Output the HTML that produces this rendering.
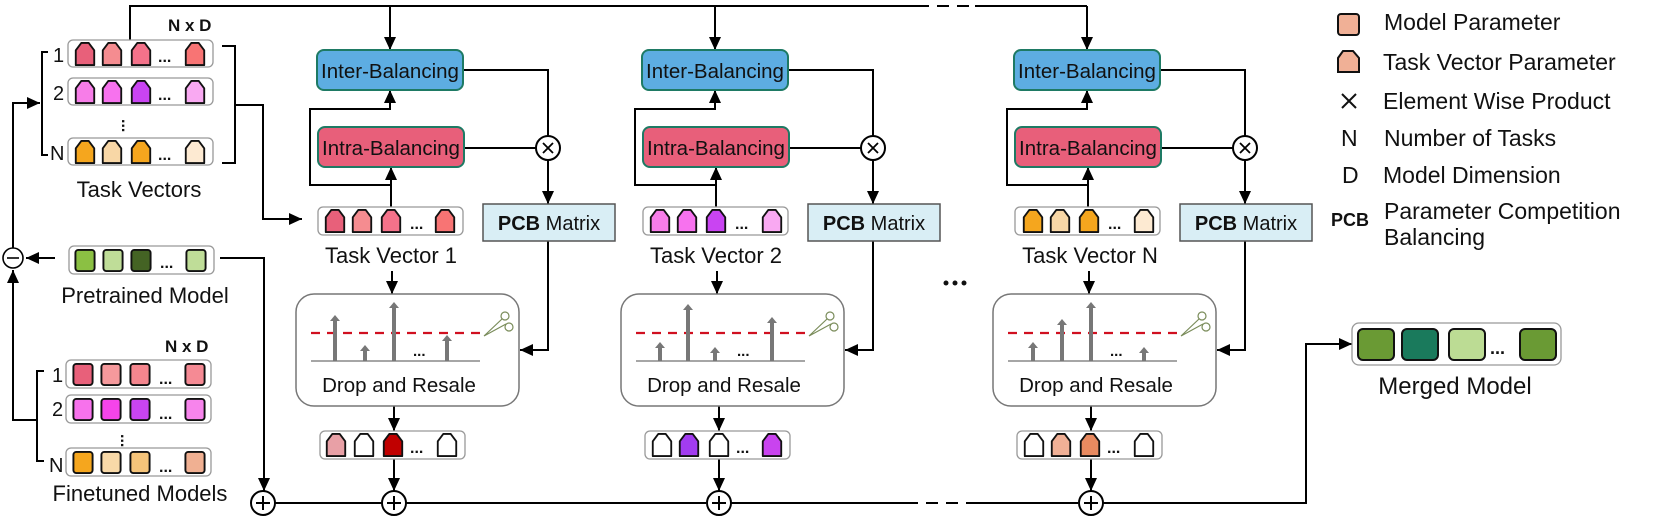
<!DOCTYPE html>
<html><head><meta charset="utf-8"><style>
html,body{margin:0;padding:0;background:#fff}
svg{display:block}
text{font-family:"Liberation Sans",sans-serif;fill:#111}
</style></head><body>
<svg width="1661" height="522" viewBox="0 0 1661 522" xmlns="http://www.w3.org/2000/svg">
<defs>
<marker id="a" markerUnits="userSpaceOnUse" markerWidth="14" markerHeight="12" refX="13" refY="6" orient="auto"><path d="M0,0 L13,6 L0,12 Z" fill="#000"/></marker>
<symbol id="tv" viewBox="0 0 22 26" overflow="visible"><path d="M1,25 V9 L7,1 H15 L21,9 V25 Z" stroke="#111" stroke-width="2" stroke-linejoin="round"/></symbol>
<symbol id="sq" viewBox="0 0 22 24" overflow="visible"><rect x="1" y="1" width="20" height="22" rx="3" stroke="#111" stroke-width="2"/></symbol>
</defs>

<g stroke="#000" stroke-width="2" fill="none">
<polyline points="130,40 130,6 917,6"/>
<line x1="917" y1="6" x2="975" y2="6" stroke-dasharray="12,8"/>
<line x1="975" y1="6" x2="1087" y2="6"/>
<line x1="390" y1="6" x2="390" y2="50" marker-end="url(#a)"/>
<line x1="715" y1="6" x2="715" y2="50" marker-end="url(#a)"/>
<line x1="1087" y1="6" x2="1087" y2="50" marker-end="url(#a)"/>
<polyline points="48,52 42,52 42,155 48,155"/>
<polyline points="222,46 235,46 235,163 222,163"/>
<polyline points="235,105 263,105 263,219 302,219" marker-end="url(#a)"/>
<polyline points="13,248 13,103 40,103" marker-end="url(#a)"/>
<line x1="55" y1="258" x2="26" y2="258" marker-end="url(#a)"/>
<polyline points="44,371 37,371 37,461 44,461"/>
<polyline points="37,420 13,420 13,270" marker-end="url(#a)"/>
<polyline points="220,258 264,258 264,491" marker-end="url(#a)"/>
<line x1="275" y1="503" x2="382" y2="503"/>
<line x1="406" y1="503" x2="706" y2="503"/>
<line x1="730" y1="503" x2="906" y2="503"/>
<line x1="906" y1="503" x2="970" y2="503" stroke-dasharray="12,8"/>
<line x1="970" y1="503" x2="1078" y2="503"/>
<polyline points="1102,503 1306,503 1306,344 1352,344" marker-end="url(#a)"/>
</g>
<circle cx="13" cy="258" r="10" fill="#fff" stroke="#000" stroke-width="1.6"/>
<line x1="7" y1="258" x2="19" y2="258" stroke="#000" stroke-width="1.6"/>
<circle cx="263" cy="503" r="12" fill="#fff" stroke="#000" stroke-width="2"/>
<path d="M256,503 H270 M263,496 V510" stroke="#000" stroke-width="2"/>

<text x="168" y="31" font-size="17" font-weight="bold">N x D</text>
<text x="53" y="62" font-size="20">1</text>
<text x="53" y="100" font-size="20">2</text>
<text x="50" y="160" font-size="20">N</text>
<g>
<rect x="68" y="40" width="145" height="27" rx="5" fill="#fff" stroke="#999" stroke-width="1.3"/>
<use href="#tv" x="74" y="42" width="22" height="24" fill="#e8607a"/>
<use href="#tv" x="101" y="42" width="22" height="24" fill="#f58c90"/>
<use href="#tv" x="130" y="42" width="22" height="24" fill="#f4728a"/>
<text x="158" y="62" font-size="16" font-weight="bold">...</text>
<use href="#tv" x="184" y="42" width="22" height="24" fill="#f87474"/>
<rect x="68" y="78" width="145" height="27" rx="5" fill="#fff" stroke="#999" stroke-width="1.3"/>
<use href="#tv" x="74" y="80" width="22" height="24" fill="#f77de8"/>
<use href="#tv" x="101" y="80" width="22" height="24" fill="#f772ee"/>
<use href="#tv" x="130" y="80" width="22" height="24" fill="#c944f2"/>
<text x="158" y="100" font-size="16" font-weight="bold">...</text>
<use href="#tv" x="184" y="80" width="22" height="24" fill="#f9a9f2"/>
<text x="125" y="128" font-size="16" font-weight="bold" transform="rotate(90 128 122)">...</text>
<rect x="68" y="138" width="145" height="27" rx="5" fill="#fff" stroke="#999" stroke-width="1.3"/>
<use href="#tv" x="74" y="140" width="22" height="24" fill="#f5a61e"/>
<use href="#tv" x="101" y="140" width="22" height="24" fill="#f8d7a6"/>
<use href="#tv" x="130" y="140" width="22" height="24" fill="#f5a61e"/>
<text x="158" y="160" font-size="16" font-weight="bold">...</text>
<use href="#tv" x="184" y="140" width="22" height="24" fill="#fdead2"/>
</g>
<text x="139" y="197" font-size="22" text-anchor="middle">Task Vectors</text>

<rect x="69" y="246" width="145" height="28" rx="5" fill="#fff" stroke="#999" stroke-width="1.3"/>
<use href="#sq" x="74" y="249" width="22" height="23" fill="#8bc043"/>
<use href="#sq" x="102" y="249" width="22" height="23" fill="#bfdd98"/>
<use href="#sq" x="130" y="249" width="22" height="23" fill="#446324"/>
<text x="160" y="268" font-size="16" font-weight="bold">...</text>
<use href="#sq" x="185" y="249" width="22" height="23" fill="#bfdd98"/>
<text x="145" y="303" font-size="22" text-anchor="middle">Pretrained Model</text>

<text x="165" y="352" font-size="17" font-weight="bold">N x D</text>
<text x="52" y="382" font-size="20">1</text>
<text x="52" y="416" font-size="20">2</text>
<text x="49" y="472" font-size="20">N</text>
<rect x="66" y="360" width="145" height="28" rx="5" fill="#fff" stroke="#999" stroke-width="1.3"/>
<use href="#sq" x="72" y="363" width="22" height="23" fill="#e8607a"/>
<use href="#sq" x="100" y="363" width="22" height="23" fill="#f5999c"/>
<use href="#sq" x="129" y="363" width="22" height="23" fill="#f5868e"/>
<text x="159" y="384" font-size="16" font-weight="bold">...</text>
<use href="#sq" x="184" y="363" width="22" height="23" fill="#f58a94"/>
<rect x="66" y="395" width="145" height="28" rx="5" fill="#fff" stroke="#999" stroke-width="1.3"/>
<use href="#sq" x="72" y="398" width="22" height="23" fill="#f772ec"/>
<use href="#sq" x="100" y="398" width="22" height="23" fill="#f544ea"/>
<use href="#sq" x="129" y="398" width="22" height="23" fill="#c944f2"/>
<text x="159" y="419" font-size="16" font-weight="bold">...</text>
<use href="#sq" x="184" y="398" width="22" height="23" fill="#f784ec"/>
<text x="124" y="443" font-size="16" font-weight="bold" transform="rotate(90 127 437)">...</text>
<rect x="66" y="448" width="145" height="28" rx="5" fill="#fff" stroke="#999" stroke-width="1.3"/>
<use href="#sq" x="72" y="451" width="22" height="23" fill="#f5a61e"/>
<use href="#sq" x="100" y="451" width="22" height="23" fill="#f8d9a8"/>
<use href="#sq" x="129" y="451" width="22" height="23" fill="#f5c47a"/>
<text x="159" y="472" font-size="16" font-weight="bold">...</text>
<use href="#sq" x="184" y="451" width="22" height="23" fill="#f0b092"/>
<text x="140" y="501" font-size="22" text-anchor="middle">Finetuned Models</text>

<g id="col1">
<g stroke="#000" stroke-width="2" fill="none">
<line x1="391" y1="207" x2="391" y2="167" marker-end="url(#a)"/>
<polyline points="391,185 310,185 310,109 390,109 390,90" marker-end="url(#a)"/>
<polyline points="463,70 548,70 548,136"/>
<line x1="464" y1="148" x2="536" y2="148"/>
<line x1="548" y1="160" x2="548" y2="204" marker-end="url(#a)"/>
<polyline points="548,241 548,350 520,350" marker-end="url(#a)"/>
<line x1="392" y1="271" x2="392" y2="294" marker-end="url(#a)"/>
<line x1="394" y1="406" x2="394" y2="431" marker-end="url(#a)"/>
<line x1="394" y1="459" x2="394" y2="491" marker-end="url(#a)"/>
</g>
<rect x="317" y="50" width="146" height="40" rx="7" fill="#5dade2" stroke="#1e7a64" stroke-width="2"/>
<text x="390" y="78" font-size="20.5" text-anchor="middle">Inter-Balancing</text>
<rect x="318" y="127" width="146" height="40" rx="7" fill="#e85f7a" stroke="#1e7a64" stroke-width="2"/>
<text x="391" y="155" font-size="20.5" text-anchor="middle">Intra-Balancing</text>
<circle cx="548" cy="148" r="12" fill="#fff" stroke="#000" stroke-width="2"/>
<path d="M543,143 L553,153 M553,143 L543,153" stroke="#000" stroke-width="1.8"/>
<rect x="483" y="204" width="132" height="37" fill="#d9eef5" stroke="#555" stroke-width="1.5"/>
<text x="549" y="230" font-size="20" text-anchor="middle"><tspan font-weight="bold">PCB</tspan> Matrix</text>
<rect x="318" y="207" width="145" height="28" rx="5" fill="#fff" stroke="#999" stroke-width="1.3"/>
<rect x="296" y="294" width="223" height="112" rx="18" fill="#fff" stroke="#777" stroke-width="1.5"/>
<line x1="311" y1="361" x2="480" y2="361" stroke="#888" stroke-width="1.5"/>
<line x1="311" y1="333" x2="480" y2="333" stroke="#d01020" stroke-width="2.2" stroke-dasharray="9,7"/>
<g stroke="#7a8c5a" stroke-width="1.2" fill="none">
<circle cx="505" cy="316" r="4"/><circle cx="509" cy="327" r="4"/>
<path d="M502,319 L484,336 M506,324 L484,336"/>
</g>
<text x="399" y="392" font-size="20.5" text-anchor="middle">Drop and Resale</text>
<rect x="320" y="431" width="145" height="28" rx="5" fill="#fff" stroke="#999" stroke-width="1.3"/>
<circle cx="394" cy="503" r="12" fill="#fff" stroke="#000" stroke-width="2"/>
<path d="M387,503 H401 M394,496 V510" stroke="#000" stroke-width="2"/>
</g>
<use href="#col1" x="325" y="0"/>
<use href="#col1" x="697" y="0"/>

<text x="391" y="263" font-size="22" text-anchor="middle">Task Vector 1</text>
<text x="716" y="263" font-size="22" text-anchor="middle">Task Vector 2</text>
<text x="1090" y="263" font-size="22" text-anchor="middle">Task Vector N</text>

<g fill="#777">
<rect x="333" y="320" width="4" height="41"/><path d="M330,321 L335,315 L340,321Z"/>
<rect x="363" y="350" width="4" height="11"/><path d="M360,351 L365,345 L370,351Z"/>
<rect x="392" y="307" width="4" height="54"/><path d="M389,308 L394,302 L399,308Z"/>
<rect x="445" y="340" width="4" height="21"/><path d="M442,341 L447,335 L452,341Z"/>
<rect x="658" y="347" width="4" height="14"/><path d="M655,348 L660,342 L665,348Z"/>
<rect x="686" y="309" width="4" height="52"/><path d="M683,310 L688,304 L693,310Z"/>
<rect x="713" y="352" width="4" height="9"/><path d="M710,353 L715,347 L720,353Z"/>
<rect x="770" y="322" width="4" height="39"/><path d="M767,323 L772,317 L777,323Z"/>
<rect x="1031" y="347" width="4" height="14"/><path d="M1028,348 L1033,342 L1038,348Z"/>
<rect x="1060" y="324" width="4" height="37"/><path d="M1057,325 L1062,319 L1067,325Z"/>
<rect x="1089" y="307" width="4" height="54"/><path d="M1086,308 L1091,302 L1096,308Z"/>
<rect x="1142" y="352" width="4" height="9"/><path d="M1139,353 L1144,347 L1149,353Z"/>
</g>
<g font-size="15" font-weight="bold">
<text x="413" y="356">...</text><text x="737" y="356">...</text><text x="1110" y="356">...</text>
</g>

<g>
<use href="#tv" x="324" y="209" width="22" height="24" fill="#e8607a"/>
<use href="#tv" x="351" y="209" width="22" height="24" fill="#f58c90"/>
<use href="#tv" x="380" y="209" width="22" height="24" fill="#f4728a"/>
<text x="410" y="229" font-size="16" font-weight="bold">...</text>
<use href="#tv" x="434" y="209" width="22" height="24" fill="#f87474"/>
<use href="#tv" x="649" y="209" width="22" height="24" fill="#f77de8"/>
<use href="#tv" x="676" y="209" width="22" height="24" fill="#f772ee"/>
<use href="#tv" x="705" y="209" width="22" height="24" fill="#c944f2"/>
<text x="735" y="229" font-size="16" font-weight="bold">...</text>
<use href="#tv" x="761" y="209" width="22" height="24" fill="#f9a9f2"/>
<use href="#tv" x="1022" y="209" width="22" height="24" fill="#f5a61e"/>
<use href="#tv" x="1049" y="209" width="22" height="24" fill="#f8d7a6"/>
<use href="#tv" x="1078" y="209" width="22" height="24" fill="#f5a61e"/>
<text x="1108" y="229" font-size="16" font-weight="bold">...</text>
<use href="#tv" x="1133" y="209" width="22" height="24" fill="#fdead2"/>
<use href="#tv" x="325" y="433" width="22" height="24" fill="#e8a0a6"/>
<use href="#tv" x="353" y="433" width="22" height="24" fill="#fff"/>
<use href="#tv" x="382" y="433" width="22" height="24" fill="#c00000"/>
<text x="410" y="453" font-size="16" font-weight="bold">...</text>
<use href="#tv" x="436" y="433" width="22" height="24" fill="#fff"/>
<use href="#tv" x="651" y="433" width="22" height="24" fill="#fff"/>
<use href="#tv" x="678" y="433" width="22" height="24" fill="#a23cf0"/>
<use href="#tv" x="708" y="433" width="22" height="24" fill="#fff"/>
<text x="736" y="453" font-size="16" font-weight="bold">...</text>
<use href="#tv" x="761" y="433" width="22" height="24" fill="#c943ef"/>
<use href="#tv" x="1023" y="433" width="22" height="24" fill="#fff"/>
<use href="#tv" x="1050" y="433" width="22" height="24" fill="#f0b096"/>
<use href="#tv" x="1079" y="433" width="22" height="24" fill="#e88a60"/>
<text x="1107" y="453" font-size="16" font-weight="bold">...</text>
<use href="#tv" x="1133" y="433" width="22" height="24" fill="#fff"/>
</g>

<g fill="#111"><circle cx="946" cy="283" r="2.5"/><circle cx="955" cy="283" r="2.5"/><circle cx="964" cy="283" r="2.5"/></g>

<rect x="1352" y="323" width="209" height="42" rx="7" fill="#fff" stroke="#999" stroke-width="1.3"/>
<rect x="1358" y="329" width="36" height="31" rx="5" fill="#6a9a34" stroke="#111" stroke-width="2"/>
<rect x="1402" y="329" width="36" height="31" rx="5" fill="#1a7a5c" stroke="#111" stroke-width="2"/>
<rect x="1449" y="329" width="36" height="31" rx="5" fill="#bcdc94" stroke="#111" stroke-width="2"/>
<text x="1490" y="354" font-size="18" font-weight="bold">...</text>
<rect x="1520" y="329" width="36" height="31" rx="5" fill="#6a9a34" stroke="#111" stroke-width="2"/>
<text x="1455" y="394" font-size="24" text-anchor="middle">Merged Model</text>

<rect x="1338" y="14" width="21" height="21" rx="3" fill="#f0b096" stroke="#111" stroke-width="2"/>
<path d="M1338,72 V58 L1343,51 H1353 L1359,58 V72 Z" fill="#f0b096" stroke="#111" stroke-width="2"/>
<path d="M1342,94 L1356,108 M1356,94 L1342,108" stroke="#111" stroke-width="2"/>
<g font-size="23">
<text x="1384" y="30">Model Parameter</text>
<text x="1383" y="70">Task Vector Parameter</text>
<text x="1383" y="109">Element Wise Product</text>
<text x="1341" y="146">N</text>
<text x="1384" y="146">Number of Tasks</text>
<text x="1342" y="183">D</text>
<text x="1383" y="183">Model Dimension</text>
<text x="1331" y="226" font-size="18" font-weight="bold">PCB</text>
<text x="1384" y="219">Parameter Competition</text>
<text x="1384" y="245">Balancing</text>
</g>
</svg>
</body></html>
